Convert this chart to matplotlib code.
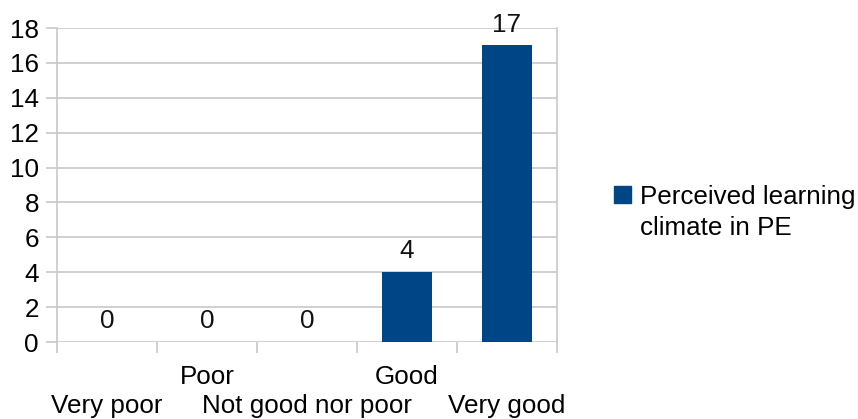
import matplotlib
matplotlib.use("Agg")
import matplotlib.pyplot as plt
import matplotlib.transforms as mtransforms
from matplotlib.ticker import FixedLocator

plt.rcParams["font.family"] = ["Liberation Sans", "DejaVu Sans"]

categories = ["Very poor", "Poor", "Not good nor poor", "Good", "Very good"]
counts = [0, 0, 0, 4, 17]
series_name = ["Perceived learning", "climate in PE"]

BAR_COLOR = "#004586"
GRID_COLOR = "#c8c8c8"
FS = 18.7

W, H = 858, 419
fig = plt.figure(figsize=(W / 100, H / 100), dpi=100)
ax = fig.add_axes([57 / W, 1 - 342 / H, 500 / W, 314 / H])

x = list(range(len(categories)))
ax.bar(x, counts, width=0.5, color=BAR_COLOR, zorder=3)

for xi, v in zip(x, counts):
    ax.annotate(str(v), (xi, v), xytext=(0, 10), textcoords="offset points",
                ha="center", va="baseline", fontsize=FS, color="#111111")

ax.set_xlim(-0.5, len(categories) - 0.5)
ax.set_ylim(0, 18)
ax.set_yticks(range(0, 19, 2))
ax.grid(axis="y", color=GRID_COLOR, linewidth=1.2, zorder=0)

# category labels in two staggered rows (odd on top, even below)
ax.set_xticks(x)
ax.set_xticklabels([])
ax.xaxis.set_minor_locator(FixedLocator([i - 0.5 for i in range(len(categories) + 1)]))
ax.tick_params(axis="x", which="major", length=0)
ax.tick_params(axis="x", which="minor", length=8, width=1.2, color=GRID_COLOR)
ax.tick_params(axis="y", length=8, width=1.2, color=GRID_COLOR, pad=5,
               labelsize=FS)
trans = mtransforms.blended_transform_factory(ax.transData, fig.transFigure)
for i, c in enumerate(categories):
    y_px = 384 if i % 2 else 413
    ax.text(i, 1 - y_px / H, c, transform=trans, ha="center", va="baseline",
            fontsize=FS)

for side in ("top", "bottom"):
    ax.spines[side].set_visible(False)
for side in ("left", "right"):
    ax.spines[side].set_color(GRID_COLOR)
    ax.spines[side].set_linewidth(1.2)

# legend: swatch next to the first line, second line wrapped below
fig.legend([plt.Rectangle((0, 0), 1, 1, color=BAR_COLOR)], [series_name[0]],
           loc="center left", bbox_to_anchor=(614 / W, 1 - 197 / H),
           frameon=False, fontsize=FS, handlelength=0.64,
           handleheight=0.64, handletextpad=0.36, borderpad=0,
           borderaxespad=0)
fig.text(640 / W, 1 - 235 / H, series_name[1], fontsize=FS, va="baseline",
         ha="left")

fig.savefig("out.png", dpi=100)
